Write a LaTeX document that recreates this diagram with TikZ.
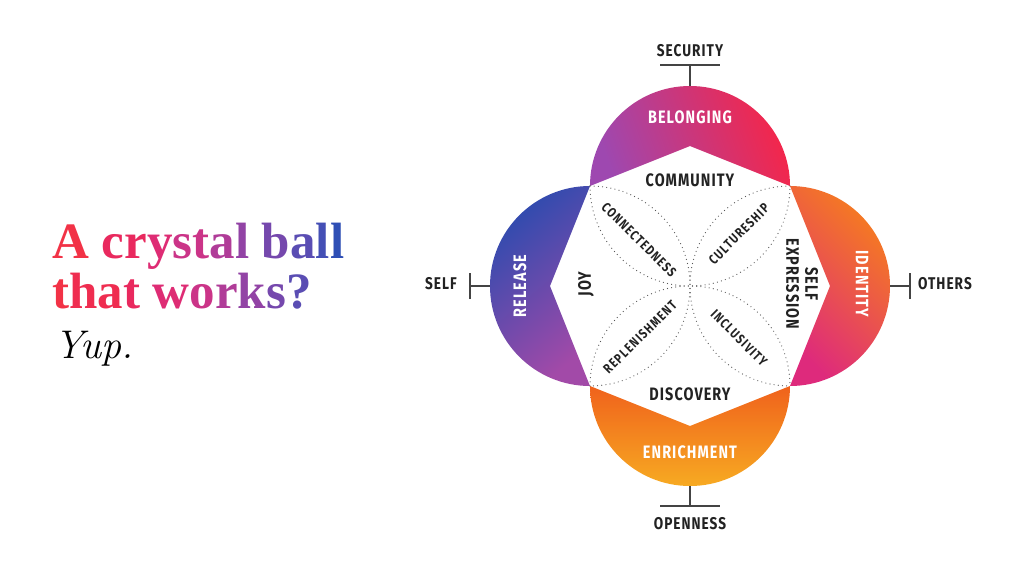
\documentclass[tikz,border=0pt]{standalone}
\usepackage{fontspec}
\usepackage{tikz}
\usepackage{xcolor}

\newfontfamily\titlefont{Liberation Serif}
\newfontfamily\lblfont[FakeStretch=0.8,LetterSpace=6]{Fira Sans}
\newfontfamily\lensfont[FakeStretch=0.8,LetterSpace=10]{Fira Sans}

\definecolor{ink}{HTML}{222222}
\definecolor{tickgray}{HTML}{444444}
\definecolor{dotgray}{HTML}{555555}
% petal colours
\definecolor{belongL}{HTML}{9E48B0}
\definecolor{belongM}{HTML}{E2217C}
\definecolor{belongR}{HTML}{F4264A}
\definecolor{releaseT}{HTML}{2C4BAF}
\definecolor{releaseM}{HTML}{3A4AB2}
\definecolor{releaseB}{HTML}{A24AA8}
\definecolor{identT}{HTML}{F67D1E}
\definecolor{identM}{HTML}{F24B38}
\definecolor{identB}{HTML}{DE2A7C}
\definecolor{enrichT}{HTML}{F0621C}
\definecolor{enrichM}{HTML}{F4861E}
\definecolor{enrichB}{HTML}{F7AA22}
% title gradient steps
\definecolor{grad0}{HTML}{F23246}
\definecolor{grad1}{HTML}{EF2D50}
\definecolor{grad2}{HTML}{E9295E}
\definecolor{grad3}{HTML}{DE2C74}
\definecolor{grad4}{HTML}{CB3488}
\definecolor{grad5}{HTML}{B03C98}
\definecolor{grad6}{HTML}{9243A5}
\definecolor{grad7}{HTML}{7548AD}
\definecolor{grad8}{HTML}{5A4DB3}
\definecolor{grad9}{HTML}{444FB5}
\definecolor{grad10}{HTML}{2F4FB5}

\newcommand{\gc}[2]{\textcolor{grad#1}{#2}}

\begin{document}
\begin{tikzpicture}[
        x=1pt, y=1pt,
        thick,
        tick/.style={draw=tickgray, line width=1.3pt},
        lens/.style={draw=dotgray, line width=1.2pt, line cap=round, dash pattern=on 0pt off 4.2pt},
        axislabel/.style={font=\lblfont\bfseries\fontsize{17}{18}\selectfont, text=ink},
        petallabel/.style={font=\lblfont\bfseries\fontsize{18}{19}\selectfont, text=white},
        innerlabel/.style={font=\lblfont\bfseries\fontsize{18}{19}\selectfont, text=ink, align=center},
        lenslabel/.style={font=\lensfont\bfseries\fontsize{13.5}{14}\selectfont, text=ink},
        title/.style={font=\titlefont\bfseries\fontsize{51}{50}\selectfont, anchor=base west, inner sep=0pt}
    ]

        % Canvas
        \fill[white] (-690,-290) rectangle (334,286);
        \useasboundingbox (-690,-290) rectangle (334,286);

        % Title
        \node[title] (title_top) at (-638,28) {\gc{0}{A} \gc{2}{c}\gc{2}{r}\gc{3}{y}\gc{4}{s}\gc{4}{t}\gc{5}{a}\gc{6}{l} \gc{7}{b}\gc{8}{a}\gc{9}{l}\gc{10}{l}};
        \node[title] (title_bottom) at (-638,-22) {\gc{0}{t}\gc{1}{h}\gc{1}{a}\gc{2}{t} \gc{3}{w}\gc{4}{o}\gc{5}{r}\gc{6}{k}\gc{7}{s}\gc{8}{?}};
        \node[anchor=base west, inner sep=0pt, font=\itshape\fontsize{40}{40}\selectfont] (yup) at (-636,-72) {Yup.};

        % Top petal - belonging
        \shade[left color=belongL, middle color=belongM, right color=belongR, shading angle=110]
            (-100,100) arc[start angle=180, end angle=0, radius=100] -- (0,140) -- cycle;

        % Left petal - release
        \shade[top color=releaseT, middle color=releaseM, bottom color=releaseB, shading angle=40]
            (-100,-100) arc[start angle=270, end angle=90, radius=100] -- (-140,0) -- cycle;

        % Right petal - identity
        \shade[top color=identT, middle color=identM, bottom color=identB, shading angle=-45]
            (100,100) arc[start angle=90, end angle=-90, radius=100] -- (140,0) -- cycle;

        % Bottom petal - enrichment
        \shade[top color=enrichT, middle color=enrichM, bottom color=enrichB]
            (100,-100) arc[start angle=0, end angle=-180, radius=100] -- (0,-140) -- cycle;

        % Dotted lenses
        \draw[lens] (-100,100) arc[start angle=90, end angle=-90, radius=100];
        \draw[lens] (100,100) arc[start angle=90, end angle=270, radius=100];
        \draw[lens] (-100,100) arc[start angle=180, end angle=360, radius=100];
        \draw[lens] (-100,-100) arc[start angle=180, end angle=0, radius=100];

        % Petal labels
        \node[petallabel] (belonging) at (0,169) {BELONGING};
        \node[petallabel, rotate=90] (release) at (-170,0) {RELEASE};
        \node[petallabel, rotate=-90] (identity) at (172,2) {IDENTITY};
        \node[petallabel] (enrichment) at (0,-166) {ENRICHMENT};

        % Inner labels
        \node[innerlabel] (community) at (0,106) {COMMUNITY};
        \node[innerlabel, rotate=90] (joy) at (-104,2) {JOY};
        \node[innerlabel, rotate=-90] (selfexpr) at (112,2) {SELF\\EXPRESSION};
        \node[innerlabel] (discovery) at (0,-108) {DISCOVERY};

        % Lens labels
        \node[lenslabel, rotate=-45] (connectedness) at (-51,46) {CONNECTEDNESS};
        \node[lenslabel, rotate=45] (cultureship) at (49,52) {CULTURESHIP};
        \node[lenslabel, rotate=45] (replenishment) at (-50,-51) {REPLENISHMENT};
        \node[lenslabel, rotate=-45] (inclusivity) at (49,-52) {INCLUSIVITY};

        % Axis ticks
        \coordinate (top_tip) at (0,200);
        \coordinate (top_bar) at (0,221);
        \coordinate (bottom_tip) at (0,-200);
        \coordinate (bottom_bar) at (0,-220);
        \coordinate (left_tip) at (-200,0);
        \coordinate (left_bar) at (-220,0);
        \coordinate (right_tip) at (200,0);
        \coordinate (right_bar) at (220,0);
        \draw[tick] (top_tip) -- (top_bar);
        \draw[tick] (-30,221) -- (30,221);
        \draw[tick] (bottom_tip) -- (bottom_bar);
        \draw[tick] (-30,-220) -- (30,-220);
        \draw[tick] (left_tip) -- (left_bar);
        \draw[tick] (-220,-13) -- (-220,13);
        \draw[tick] (right_tip) -- (right_bar);
        \draw[tick] (220,-13) -- (220,13);

        % Axis labels
        \node[axislabel] (security) at (0,235) {SECURITY};
        \node[axislabel] (openness) at (0,-238) {OPENNESS};
        \node[axislabel] (self) at (-249,2) {SELF};
        \node[axislabel] (others) at (255,2) {OTHERS};

    \end{tikzpicture}
\end{document}
